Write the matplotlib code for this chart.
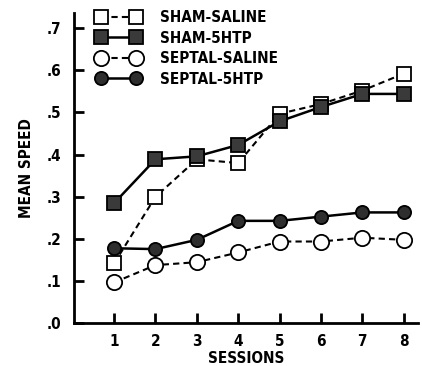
import matplotlib
matplotlib.use("Agg")
import matplotlib.pyplot as plt

plt.rcParams["font.family"] = ["DejaVu Sans"]
plt.rcParams["font.stretch"] = "condensed"
plt.rcParams["font.weight"] = "bold"
plt.rcParams["axes.labelweight"] = "bold"

sessions = [1, 2, 3, 4, 5, 6, 7, 8]
sham_saline = [0.142, 0.300, 0.389, 0.380, 0.497, 0.520, 0.552, 0.592]
sham_5htp = [0.285, 0.389, 0.396, 0.423, 0.479, 0.513, 0.544, 0.544]
septal_saline = [0.097, 0.138, 0.145, 0.168, 0.194, 0.194, 0.203, 0.198]
septal_5htp = [0.178, 0.176, 0.198, 0.243, 0.243, 0.253, 0.263, 0.263]
y_ticks = [0.0, 0.1, 0.2, 0.3, 0.4, 0.5, 0.6, 0.7]
y_labels = [".0", ".1", ".2", ".3", ".4", ".5", ".6", ".7"]

fig = plt.figure(figsize=(4.22, 3.66), dpi=100)
ax = fig.add_axes([0.175, 0.1166, 0.815, 0.848])

dash = (0, (3, 2))
ms = 10.5
ax.plot(sessions, sham_saline, linestyle=dash, color="black", lw=1.5,
        marker="s", ms=ms, mfc="white", mec="black", mew=1.3, label="SHAM-SALINE")
ax.plot(sessions, sham_5htp, linestyle="-", color="black", lw=1.8,
        marker="s", ms=ms - 1, mfc="#3a3a3a", mec="black", mew=1.3, label="SHAM-5HTP")
ax.plot(sessions, septal_saline, linestyle=dash, color="black", lw=1.5,
        marker="o", ms=ms + 0.5, mfc="white", mec="black", mew=1.3, label="SEPTAL-SALINE")
ax.plot(sessions, septal_5htp, linestyle="-", color="black", lw=1.8,
        marker="o", ms=ms - 1, mfc="#2e2e2e", mec="black", mew=1.3, label="SEPTAL-5HTP")

ax.set_xlim(0.027, 8.34)
ax.set_ylim(0, 0.736)
ax.set_xticks(sessions)
ax.set_yticks(y_ticks)
ax.set_yticklabels(y_labels)
ax.tick_params(direction="in", length=7, width=2, labelsize=11)
ax.tick_params(axis="y", pad=9)
ax.tick_params(axis="x", pad=8)
for s in ["top", "right"]:
    ax.spines[s].set_visible(False)
for s in ["left", "bottom"]:
    ax.spines[s].set_linewidth(2)

ax.set_xlabel("SESSIONS", fontsize=11, labelpad=1)
ax.set_ylabel("MEAN SPEED", fontsize=11, labelpad=9)

leg = ax.legend(loc="upper left", bbox_to_anchor=(0.025, 1.053), frameon=False,
                numpoints=2, handlelength=2.9, handletextpad=1.3,
                labelspacing=0.36, fontsize=11)

fig.savefig("out.png", dpi=100)
